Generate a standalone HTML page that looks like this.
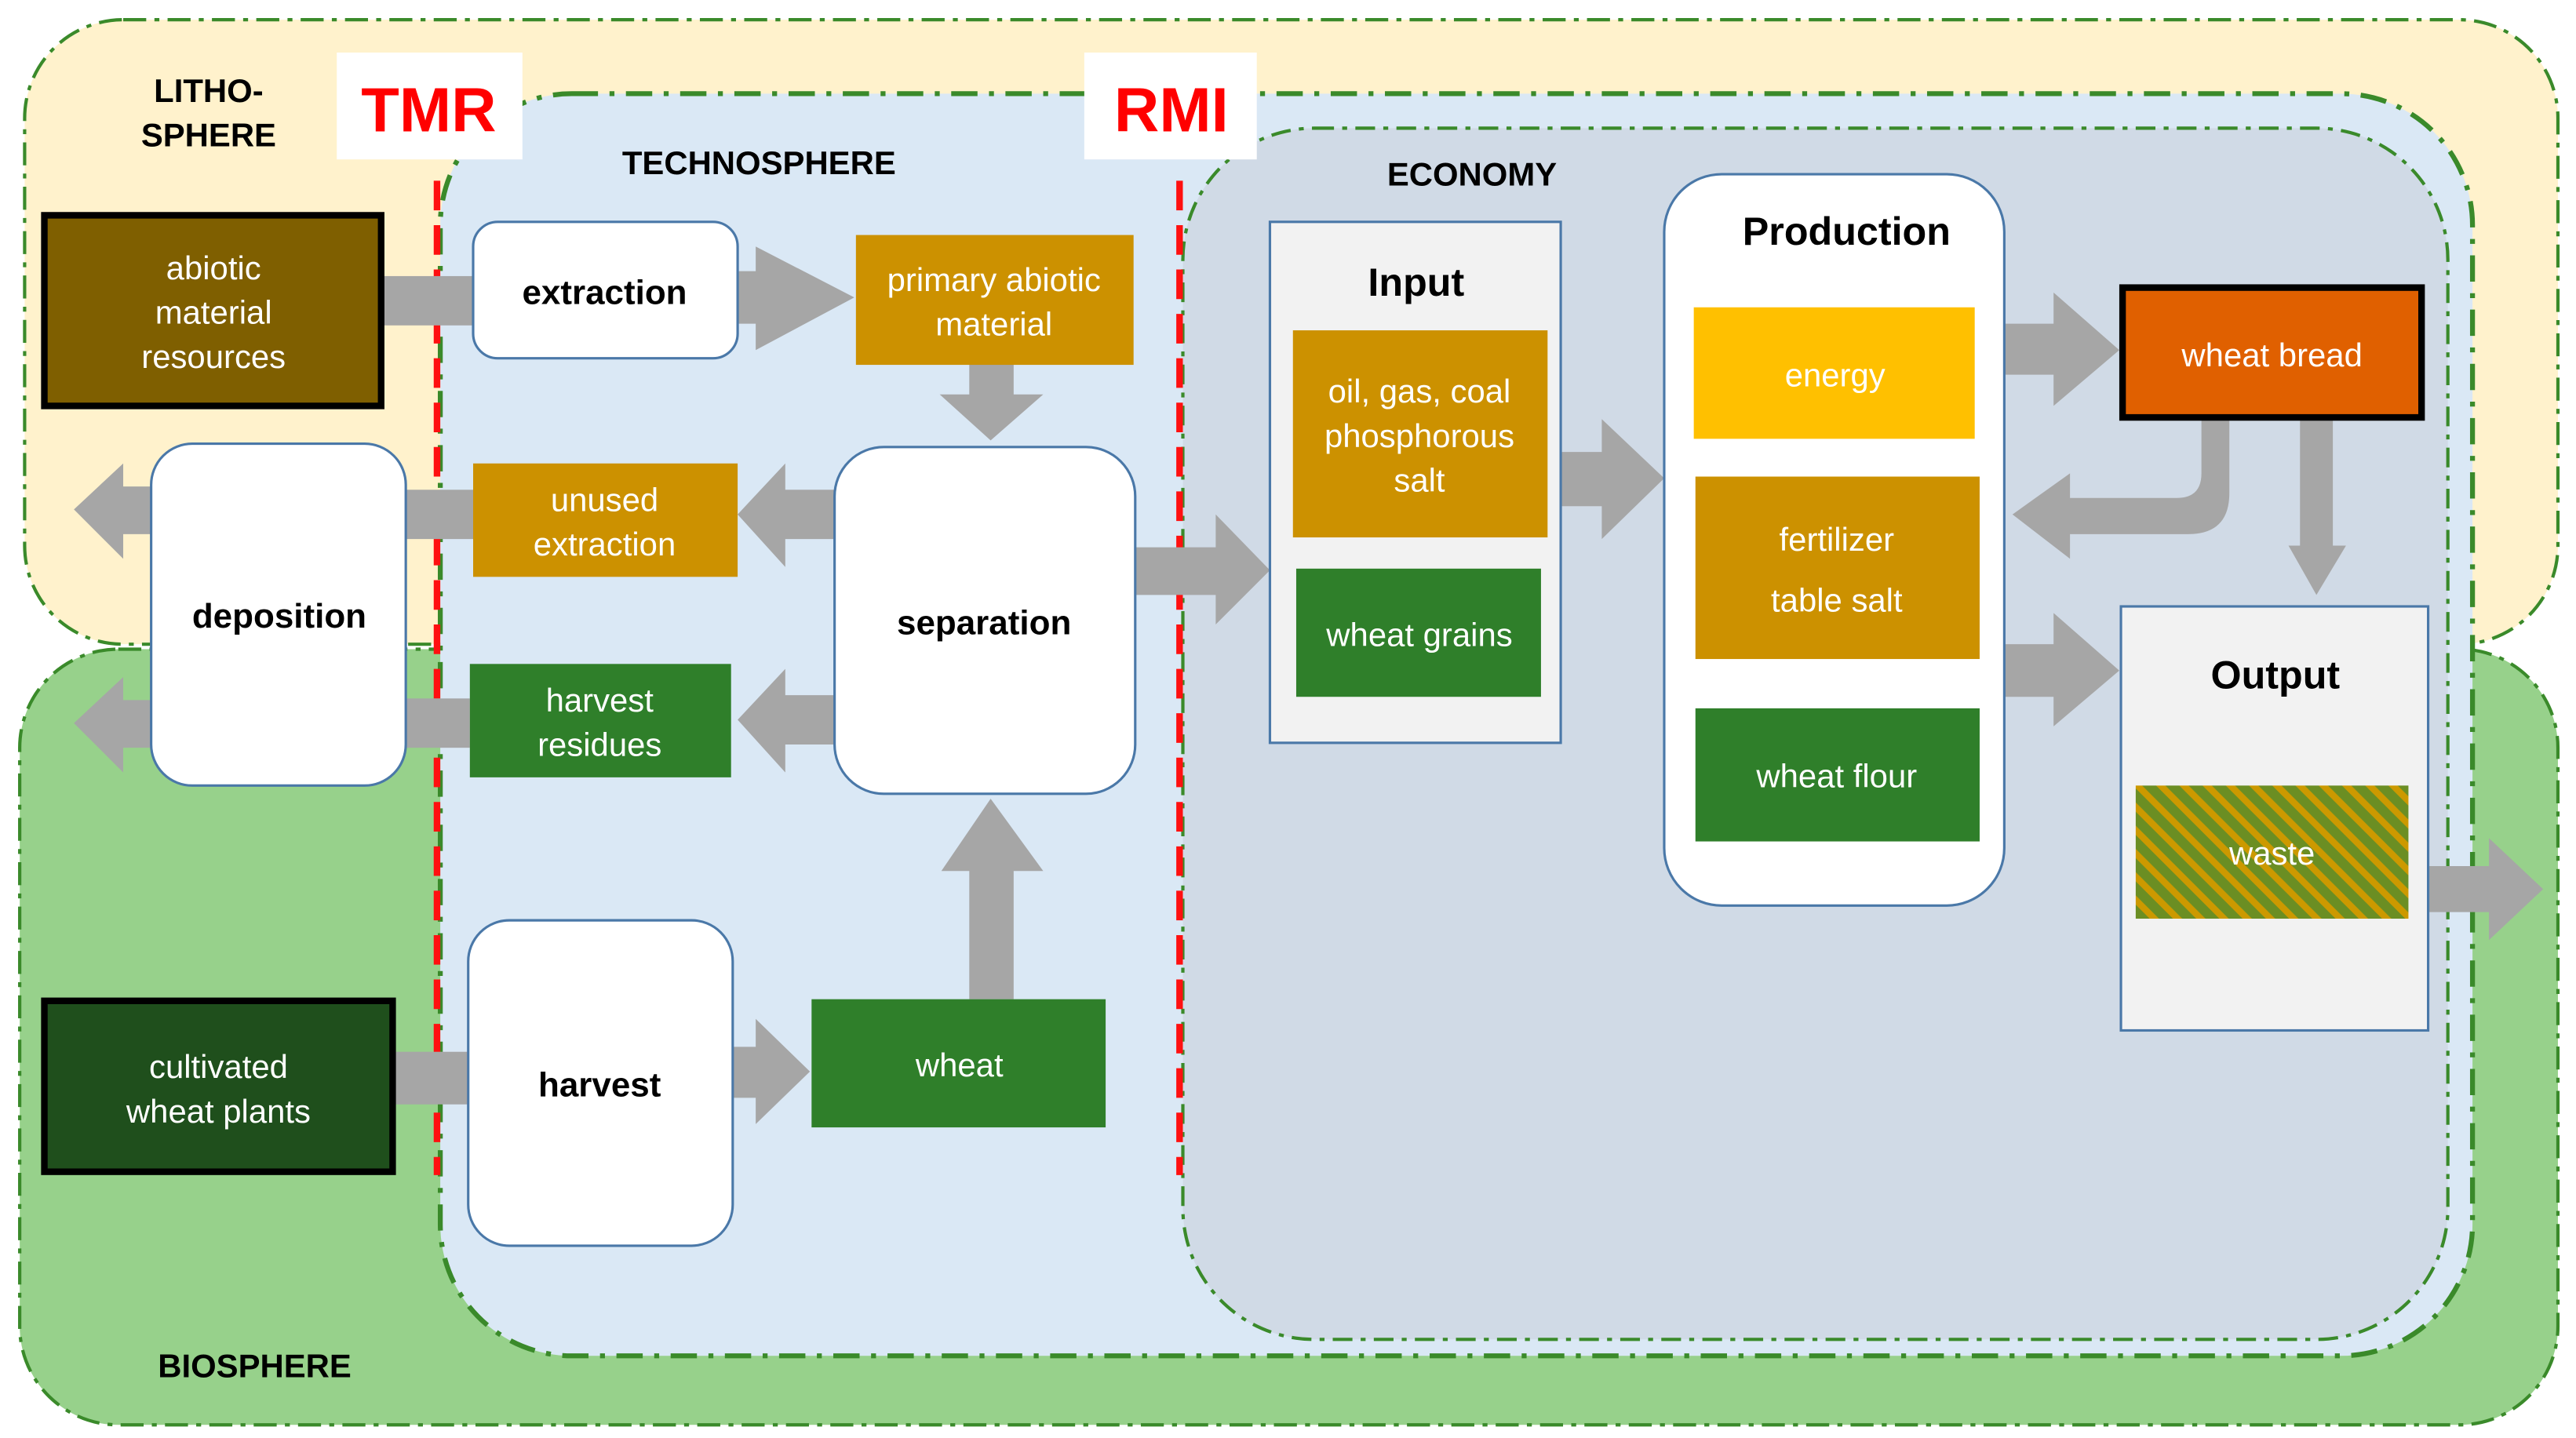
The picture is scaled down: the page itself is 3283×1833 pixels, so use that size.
<!DOCTYPE html>
<html><head><meta charset="utf-8"><style>html,body{margin:0;padding:0;background:#fff}svg{display:block}</style></head>
<body>
<svg width="3283" height="1833" viewBox="0 0 1568 875" preserveAspectRatio="none" xmlns="http://www.w3.org/2000/svg" font-family="Liberation Sans, Arial, sans-serif">
<defs>
<pattern id="hatch" width="10" height="10" patternUnits="userSpaceOnUse" patternTransform="rotate(-45)">
<rect width="10" height="10" fill="#6b8e23"/><rect width="4" height="10" fill="#cc9900"/>
</pattern>
</defs>
<rect width="1568" height="875" fill="#fff"/>
<rect x="15" y="12" width="1542" height="380" rx="60" fill="#fff2cc" stroke="#3a8a2a" stroke-width="2" stroke-dasharray="14,5,3,5"/>
<rect x="12" y="395" width="1545" height="472" rx="60" fill="#97d18b" stroke="#3a8a2a" stroke-width="2" stroke-dasharray="14,5,3,5"/>
<rect x="268" y="57" width="1237" height="768" rx="80" fill="#dae8f5" stroke="#3a8a2a" stroke-width="3" stroke-dasharray="16,7,3,7"/>
<rect x="720" y="78" width="770" height="737" rx="80" fill="#d0dae6" stroke="#3a8a2a" stroke-width="2" stroke-dasharray="12,5,3,5"/>

<line x1="266" y1="110" x2="266" y2="715" stroke="#ff1010" stroke-width="4" stroke-dasharray="18,9"/>
<line x1="718" y1="110" x2="718" y2="715" stroke="#ff1010" stroke-width="4" stroke-dasharray="18,9"/>
<rect x="205" y="32" width="113" height="65" fill="#fff"/>
<rect x="660" y="32" width="105" height="65" fill="#fff"/>
<text x="261" y="80" font-size="38" font-weight="bold" fill="#ff0000" text-anchor="middle">TMR</text>
<text x="713" y="80" font-size="38" font-weight="bold" fill="#ff0000" text-anchor="middle">RMI</text>

<g font-weight="bold" font-size="20" text-anchor="middle" fill="#000">
<text x="127" y="62">LITHO-</text><text x="127" y="89">SPHERE</text>
<text x="462" y="106">TECHNOSPHERE</text>
<text x="896" y="113">ECONOMY</text>
<text x="155" y="838">BIOSPHERE</text>
</g>

<g fill="#a6a6a6">
<rect x="233" y="168" width="55" height="30"/>
<path d="M449,165 H460 V150 L520,181 L460,213 V197 H449Z"/>
<path d="M590,222 H617 V240 H635 L603,268 L572,240 H590Z"/>
<path d="M508,298 H478 V282 L449,313 L478,345 V328 H508Z"/>
<rect x="247" y="298" width="41" height="30"/>
<path d="M92,296 H75 V282 L45,310 L75,340 V325 H92Z"/>
<path d="M508,423 H478 V407 L449,438 L478,470 V453 H508Z"/>
<rect x="247" y="425" width="39" height="30"/>
<path d="M92,426 H75 V412 L45,440 L75,470 V455 H92Z"/>
<path d="M590,608 V530 H573 L603,486 L635,530 H617 V608Z"/>
<rect x="240" y="640" width="45" height="32"/>
<path d="M446,637 H460 V620 L493,652 L460,684 V668 H446Z"/>
<path d="M691,333 H740 V313 L773,347 L740,380 V362 H691Z"/>
<path d="M950,275 H975 V255 L1013,291 L975,328 V308 H950Z"/>
<path d="M1220,197 H1250 V178 L1290,213 L1250,247 V228 H1220Z"/>
<path d="M1220,392 H1250 V373 L1290,408 L1250,442 V424 H1220Z"/>
<path d="M1340,255 H1357 V300 Q1357,325 1332,325 H1260 V340 L1225,313 L1260,288 V303 H1325 Q1340,303 1340,288Z"/>
<path d="M1400,255 H1420 V332 H1428 L1410,362 L1393,332 H1400Z"/>
<path d="M1478,527 H1515 V510 L1548,541 L1515,572 V555 H1478Z"/>
</g>

<rect x="27" y="131" width="205" height="116" fill="#7f5f00" stroke="#000" stroke-width="4"/>
<rect x="288" y="135" width="161" height="83" rx="15" fill="#fff" stroke="#4a78a8" stroke-width="1.5"/>
<rect x="521" y="143" width="169" height="79" fill="#cc9100"/>
<rect x="92" y="270" width="155" height="208" rx="25" fill="#fff" stroke="#4a78a8" stroke-width="1.5"/>
<rect x="288" y="282" width="161" height="69" fill="#cc9100"/>
<rect x="508" y="272" width="183" height="211" rx="30" fill="#fff" stroke="#4a78a8" stroke-width="1.5"/>
<rect x="286" y="404" width="159" height="69" fill="#2f7f2a"/>
<rect x="285" y="560" width="161" height="198" rx="25" fill="#fff" stroke="#4a78a8" stroke-width="1.5"/>
<rect x="494" y="608" width="179" height="78" fill="#2f7f2a"/>
<rect x="27" y="609" width="212" height="104" fill="#1f4f1c" stroke="#000" stroke-width="4"/>

<rect x="773" y="135" width="177" height="317" fill="#f2f2f2" stroke="#4a78a8" stroke-width="1.5"/>
<rect x="787" y="201" width="155" height="126" fill="#cc9100"/>
<rect x="789" y="346" width="149" height="78" fill="#2f7f2a"/>
<rect x="1013" y="106" width="207" height="445" rx="35" fill="#fff" stroke="#4a78a8" stroke-width="1.5"/>
<rect x="1031" y="187" width="171" height="80" fill="#ffc000"/>
<rect x="1032" y="290" width="173" height="111" fill="#cc9100"/>
<rect x="1032" y="431" width="173" height="81" fill="#2f7f2a"/>
<rect x="1292" y="175" width="182" height="79" fill="#e06000" stroke="#000" stroke-width="4"/>
<rect x="1291" y="369" width="187" height="258" fill="#f2f2f2" stroke="#4a78a8" stroke-width="1.5"/>
<rect x="1300" y="478" width="166" height="81" fill="url(#hatch)"/>

<g fill="#fff" font-size="20" text-anchor="middle">
<text x="130" y="170">abiotic</text><text x="130" y="197">material</text><text x="130" y="224">resources</text>
<text x="605" y="177">primary abiotic</text><text x="605" y="204">material</text>
<text x="368" y="311">unused</text><text x="368" y="338">extraction</text>
<text x="365" y="433">harvest</text><text x="365" y="460">residues</text>
<text x="584" y="655">wheat</text>
<text x="133" y="656">cultivated</text><text x="133" y="683">wheat plants</text>
<text x="864" y="245">oil, gas, coal</text><text x="864" y="272">phosphorous</text><text x="864" y="299">salt</text>
<text x="864" y="393">wheat grains</text>
<text x="1117" y="235">energy</text>
<text x="1118" y="335">fertilizer</text><text x="1118" y="372">table salt</text>
<text x="1118" y="479">wheat flour</text>
<text x="1383" y="223">wheat bread</text>
<text x="1383" y="526">waste</text>
</g>
<g fill="#000" font-size="21" font-weight="bold" text-anchor="middle">
<text x="368" y="185">extraction</text>
<text x="170" y="382">deposition</text>
<text x="599" y="386">separation</text>
<text x="365" y="667">harvest</text>
<text x="862" y="180" font-size="24">Input</text>
<text x="1124" y="149" font-size="24">Production</text>
<text x="1385" y="419" font-size="24">Output</text>
</g>
</svg>
</body></html>
